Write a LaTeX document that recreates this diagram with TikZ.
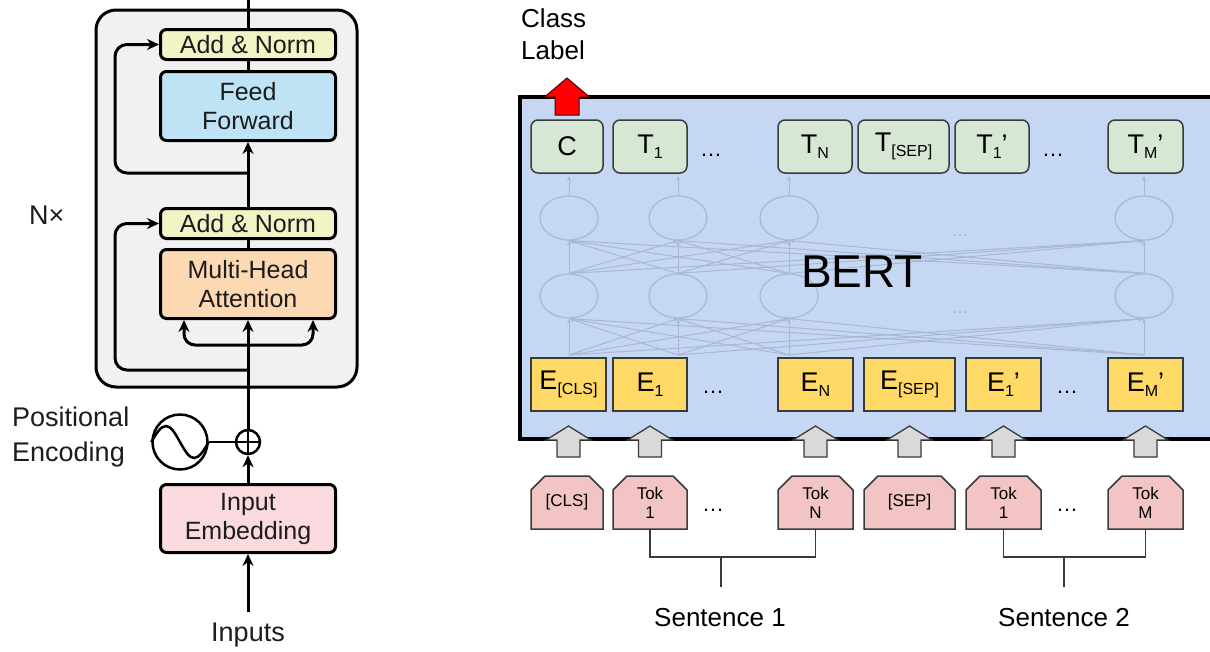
\documentclass[tikz,border=0pt]{standalone}
\usepackage{fontspec}
\setmainfont{Liberation Sans}
\usetikzlibrary{arrows.meta,shapes.geometric,shapes.misc}

\definecolor{panelgray}{HTML}{F1F1F1}
\definecolor{addnorm}{HTML}{F2F4C6}
\definecolor{ffblue}{HTML}{BEE3F4}
\definecolor{mhaorange}{HTML}{FCD9B2}
\definecolor{embpink}{HTML}{FADADE}
\definecolor{bertblue}{HTML}{C6D7F4}
\definecolor{tgreen}{HTML}{D6E8D3}
\definecolor{eyellow}{HTML}{FFD966}
\definecolor{tokpink}{HTML}{F3C4C4}
\definecolor{blockgray}{HTML}{D9D9D9}
\definecolor{edge}{HTML}{3A3A3A}
\definecolor{faint}{HTML}{A8B7D3}
\definecolor{ink}{HTML}{1C1C1C}
\definecolor{classred}{HTML}{FF0000}

% subscript set at a fixed size, dropped below the baseline
\newcommand\subtext[1]{\raisebox{-5pt}{\fontsize{16}{16}\selectfont #1}}

\tikzset{
  lblock/.style={draw=black, line width=3pt, rounded corners=6pt,
    minimum width=175pt, align=center, text=ink, inner sep=0pt,
    font=\fontsize{25}{29}\selectfont},
  flow/.style={line width=3pt, -{Stealth[length=12pt,width=11pt]}},
  plainline/.style={line width=3pt},
  outerlabel/.style={text=ink, font=\fontsize{27}{35}\selectfont, inner sep=0pt},
  tbox/.style={draw=edge, line width=1.5pt, rounded corners=7pt, fill=tgreen,
    minimum height=53pt, inner sep=0pt, font=\fontsize{27}{30}\selectfont},
  ebox/.style={draw=edge, line width=1.5pt, fill=eyellow,
    minimum height=53pt, inner sep=0pt, font=\fontsize{27}{30}\selectfont},
  tokbox/.style={chamfered rectangle, chamfered rectangle corners={north west,north east},
    chamfered rectangle xsep=7pt, chamfered rectangle ysep=7pt,
    draw=edge, line width=1.5pt, fill=tokpink, minimum height=53pt,
    inner sep=0pt, align=center, font=\fontsize{17}{19}\selectfont},
  hnode/.style={ellipse, draw=faint, line width=1.2pt, minimum width=58pt,
    minimum height=44pt, inner sep=0pt},
  hlink/.style={draw=faint, line width=1pt, -{Stealth[length=5pt,width=4pt]}},
  dots/.style={anchor=base, inner sep=0pt, font=\fontsize{22}{22}\selectfont},
  bracket/.style={draw=edge, line width=1.5pt},
  rightlabel/.style={font=\fontsize{26}{32}\selectfont, inner sep=0pt, align=left},
  pics/embedarrow/.style={code={
    \path[pic actions] (0,0) -- (22.5,14) -- (11.5,14) -- (11.5,31)
      -- (-11.5,31) -- (-11.5,14) -- (-22.5,14) -- cycle;}},
  pics/outarrow/.style={code={
    \path[pic actions] (0,0) -- (22.5,19) -- (12,19) -- (12,37)
      -- (-12,37) -- (-12,19) -- (-22.5,19) -- cycle;}},
}

\begin{document}
\begin{tikzpicture}[x=1pt, y=-1pt]
\useasboundingbox (0,0) rectangle (1210,651);

% ================= Transformer encoder =================
\draw[line width=3pt, rounded corners=20pt, fill=panelgray] (96,10) rectangle (357,387);

\node[lblock, fill=addnorm, minimum height=30pt] (AN2) at (248,44.5) {Add \& Norm};
\node[lblock, fill=ffblue, minimum height=69pt] (FF) at (248,106) {Feed\\Forward};
\node[lblock, fill=addnorm, minimum height=30pt] (AN1) at (248,223.5) {Add \& Norm};
\node[lblock, fill=mhaorange, minimum height=69pt] (MHA) at (248,284) {Multi-Head\\Attention};
\node[lblock, fill=embpink, minimum height=68pt] (IE) at (248,518.5) {Input\\Embedding};

\node[circle, draw, fill=white, line width=2.5pt, minimum size=24pt, inner sep=0pt] (plus) at (248,442) {};
\draw[line width=2.2pt] (plus.north) -- (plus.south) (plus.west) -- (plus.east);
\node[circle, draw, fill=white, line width=2.5pt, minimum size=55pt, inner sep=0pt] (pe) at (180,442) {};
\draw[line width=2.5pt] (pe.west) sin (166,426) cos (180,442) sin (194,458) cos (pe.east);
\draw[line width=2.5pt] (pe.east) -- (plus.west);

\node[outerlabel, anchor=west, align=left] (peLabel) at (12,437) {Positional\\Encoding};
\node[outerlabel, anchor=west] (nx) at (29,215) {N×};
\node[outerlabel] (inputs) at (248,635) {Inputs};

\coordinate (top) at (248,0);
\coordinate (res2) at (248,173);
\coordinate (res1) at (248,370);
\coordinate (split) at (248,345);

\draw[plainline] (AN2.north) -- (top);
\draw[plainline] (FF.north) -- (AN2.south);
\draw[flow] (AN1.north) -- (FF.south);
\draw[plainline] (MHA.north) -- (AN1.south);
\draw[flow] (plus.north) -- (MHA.south);
\draw[flow] (IE.north) -- (plus.south);
\draw[flow] ([yshift=11pt]inputs.north) -- (IE.south);

\draw[flow, rounded corners=12pt] (res2) -- (115,173) -- (115,44.5) -- (AN2.west);
\draw[flow, rounded corners=12pt] (res1) -- (115,370) -- (115,223.5) -- (AN1.west);
\draw[flow, rounded corners=11pt] (split) -- (184,345) -- ([xshift=-64pt]MHA.south);
\draw[flow, rounded corners=11pt] (split) -- (313,345) -- ([xshift=65pt]MHA.south);

% ================= BERT =================
\fill[bertblue] (520,97) rectangle (1210,439);
\draw[line width=4pt] (1210,97) -- (520,97) -- (520,439) -- (1210,439);

% hidden layers
\foreach \i/\x in {1/569,2/678,3/789,4/1144} {
  \node[hnode] (ha\i) at (\x,218) {};
  \node[hnode] (hb\i) at (\x,296) {};
  \coordinate (hin\i) at (\x,355);
  \coordinate (hout\i) at (\x,176);
}
\foreach \i in {1,...,4} {
  \draw[hlink] (ha\i.north) -- (hout\i);
  \foreach \j in {1,...,4} {
    \draw[hlink] (hb\i.north) -- (ha\j.south);
    \draw[hlink] (hin\i) -- (hb\j.south);
  }
}
\node[dots, text=faint, font=\fontsize{18}{18}\selectfont] (hdotsA) at (960,236) {…};
\node[dots, text=faint, font=\fontsize{18}{18}\selectfont] (hdotsB) at (960,313) {…};

\node[font=\fontsize{46}{46}\selectfont, inner sep=0pt] (bert) at (862,272) {BERT};

% output row
\node[tbox, minimum width=72pt] (C) at (567,146.5) {C};
\node[tbox, minimum width=74pt] (T1) at (650,146.5) {T\subtext{1}};
\node[dots] (tdotsA) at (711,156) {…};
\node[tbox, minimum width=74pt] (TN) at (815,146.5) {T\subtext{N}};
\node[tbox, minimum width=91pt] (TSEP) at (903.5,146.5) {T\subtext{[SEP]}};
\node[tbox, minimum width=74pt] (T1p) at (992,146.5) {T\subtext{1}’};
\node[dots] (tdotsB) at (1053,156) {…};
\node[tbox, minimum width=75pt] (TMp) at (1145.5,146.5) {T\subtext{M}’};

% embedding row
\node[ebox, minimum width=75pt] (ECLS) at (568.5,384.5) {E\subtext{[CLS]}};
\node[ebox, minimum width=74pt] (E1) at (650,384.5) {E\subtext{1}};
\node[dots] (edotsA) at (713,393) {…};
\node[ebox, minimum width=75pt] (EN) at (815.5,384.5) {E\subtext{N}};
\node[ebox, minimum width=91pt] (ESEP) at (909.5,384.5) {E\subtext{[SEP]}};
\node[ebox, minimum width=75pt] (E1p) at (1003.5,384.5) {E\subtext{1}’};
\node[dots] (edotsB) at (1067,393) {…};
\node[ebox, minimum width=75pt] (EMp) at (1145.5,384.5) {E\subtext{M}’};

% input tokens
\node[tokbox, minimum width=72pt] (KCLS) at (567,502.5) {[CLS]};
\node[tokbox, minimum width=74pt] (K1) at (650,502.5) {Tok\\1};
\node[dots] (kdotsA) at (713,511) {…};
\node[tokbox, minimum width=75pt] (KN) at (815.5,502.5) {Tok\\N};
\node[tokbox, minimum width=91pt] (KSEP) at (909.5,502.5) {[SEP]};
\node[tokbox, minimum width=75pt] (K1p) at (1003.5,502.5) {Tok\\1};
\node[dots] (kdotsB) at (1067,511) {…};
\node[tokbox, minimum width=75pt] (KMp) at (1145.5,502.5) {Tok\\M};

% block arrows from tokens into BERT
\coordinate (arrowTip) at (0,426);
\foreach \n in {ECLS,E1,EN,ESEP,E1p,EMp}
  \pic[fill=blockgray, draw=edge, line width=1.3pt] at (\n.south |- arrowTip) {embedarrow};

% classification output
\coordinate (classTip) at (0,78);
\pic[fill=classred, draw=black!70!red, line width=1pt] at (C.north |- classTip) {outarrow};
\node[rightlabel, anchor=west] (classLabel) at (521,34) {Class\\Label};

% sentence brackets
\coordinate (s1stem) at (721,557);
\coordinate (s1end) at (721,587);
\coordinate (s2stem) at (1064,557);
\coordinate (s2end) at (1064,587);
\draw[bracket] (K1.south) |- (s1stem) -| (KN.south);
\draw[bracket] (s1stem) -- (s1end);
\draw[bracket] (K1p.south) |- (s2stem) -| (KMp.south);
\draw[bracket] (s2stem) -- (s2end);
\node[rightlabel] (sent1) at (720,618) {Sentence 1};
\node[rightlabel] (sent2) at (1064,618) {Sentence 2};
\end{tikzpicture}
\end{document}
